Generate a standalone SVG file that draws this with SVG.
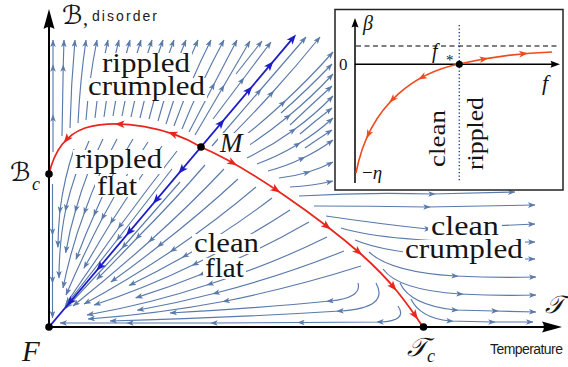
<svg xmlns="http://www.w3.org/2000/svg" xmlns:xlink="http://www.w3.org/1999/xlink" width="568" height="367" viewBox="0 0 568 367">
<defs>
<style>
.s{fill:none;stroke:#5a7aab;stroke-width:1.15}
.lab{font-family:"Liberation Serif",serif;font-weight:normal;fill:#151515}
.it{font-style:italic}
.bg{fill:#fff}
.hand{font-family:"Liberation Sans",sans-serif;fill:#1a1a1a}
.scr{font-family:"DejaVu Sans","DejaVu Serif",serif;font-style:italic;fill:#151515}
</style>
<marker id="sm" viewBox="0 0 8 6" refX="4" refY="3" markerWidth="7.5" markerHeight="5.6" markerUnits="userSpaceOnUse" orient="auto"><path d="M0,0 L8,3 L0,6 L2,3 z" fill="#5a7aab"/></marker>
<marker id="se" viewBox="0 0 8 6" refX="7.5" refY="3" markerWidth="7.5" markerHeight="5.6" markerUnits="userSpaceOnUse" orient="auto"><path d="M0,0 L8,3 L0,6 L2,3 z" fill="#5a7aab"/></marker>
<path id="ah" d="M5,0 L-5,-3.8 L-2.5,0 L-5,3.8 Z"/>
<path id="ahs" d="M4.5,0 L-4.5,-3.3 L-2.2,0 L-4.5,3.3 Z"/>
</defs>
<rect width="568" height="367" fill="#fff"/>

<g id="streamlines" class="s" marker-mid="url(#sm)" marker-end="url(#se)">
<!-- rippled crumpled: flow up -->
<path d="M53,152 L53,118 L53,68 L53,40"/>
<path d="M62,136 Q62.5,100 63.2,68 L64,40"/>
<path d="M70,128 Q71,84 75,40"/>
<path d="M78,123 Q80,81.5 86,40"/>
<path d="M86,120 Q89,80 97,40"/>
<path d="M95,118 Q99,79 108,40"/>
<path d="M104,117 Q109,78.5 119,40"/>
<path d="M113,116 Q119,78 130,40"/>
<path d="M122,116 Q129,78 141,40"/>
<path d="M131,117 Q139,78.5 152,40"/>
<path d="M140,118 Q149,79 163,40"/>
<path d="M149,119 Q159,79.5 174,40"/>
<path d="M158,121 Q169,80.5 186,40"/>
<path d="M166,124 Q179,82 198,40"/>
<path d="M174,126 Q189.5,83 211,40"/>
<path d="M182,129 Q200,84.5 224,40"/>
<path d="M189,132 L213,86 L237,40"/>
<path d="M195,135 L222.5,88 L250,41"/>
<path d="M236,74 L262,41"/>
<path d="M213,119 L242,80.5 L271,42"/>
<!-- clean crumpled, upper -->
<path d="M212,146 L259,91.5 L306,37"/>
<path d="M220,147 Q246.5,121 271.5,93.5 Q296.5,66 320,37"/>
<path d="M228,149 Q256.8,127.3 283,103 Q309.3,78.8 333,52"/>
<path d="M237,153 Q264,136.3 288,116.5 Q312,96.8 333,74"/>
<path d="M247,158 Q271.5,146 293,130.5 Q314.5,115 333,96"/>
<path d="M257,164 Q278.5,156 297.5,144.5 Q316.5,133 333,118"/>
<path d="M268,171 Q285.8,166.3 302,158.5 Q318.3,150.8 333,140"/>
<path d="M279,178 Q293.5,176.5 307,172.5 Q320.5,168.5 333,162"/>
<path d="M290,187 Q312,186 333,181"/>
<path d="M281,113 Q306,91 332,64"/>
<path d="M290,125 Q310,106 332,86"/>
<path d="M300,134 Q315,121 332,108"/>
<path d="M305,148 Q318,139 332,130"/>
<!-- clean crumpled, lower -->
<path d="M299,196 Q365,192 432,194 L515,192"/>
<path d="M314,206 Q370,206 427,207 L535,205"/>
<path d="M326,216 Q380,224 428,229 L535,224"/>
<path d="M341,228 C380,240 450,243 535,242"/>
<path d="M355,240 C388,254 460,259 535,259"/>
<path d="M369,252 Q390,272 455,276 Q495,278 536,277"/>
<path d="M383,269 Q398,290 460,294 Q500,296 536,295"/>
<path d="M400,283 Q410,305 455,310 L495,311 L536,312"/>
<path d="M411,299 Q420,318 450,321 L492,322 L533,322"/>
<!-- clean flat: flow to F -->
<path d="M180,182 Q152,214 124,246 Q95,277 66,308"/>
<path d="M205,165 Q173,202 138,237 Q117.6,258.6 96.8,279.4"/>
<path d="M224,169 Q189,206 151,240 Q113,274 73,306"/>
<path d="M238,179 Q200,214 160,245 Q136,264.2 110.9,282"/>
<path d="M256,187 Q216,221 173,250 Q130,279 84,304"/>
<path d="M272,198 Q230,230 185,256 Q157.4,271.6 129.1,285.5"/>
<path d="M290,210 Q244,240 195,264 Q146,288 94,305"/>
<path d="M309,222 Q257,252 202,274 Q169.6,287.2 135.7,297.9"/>
<path d="M327,237 Q270,265 210,284 Q150,304 87,315"/>
<path d="M344,251 Q282,276 216,293 Q177,303.2 137.3,310.2"/>
<path d="M361,266 Q295,287 226,301 Q158,314 88,319"/>
<path d="M358,283 Q362,298 330,301 Q260,308 170,313"/>
<path d="M376,283 Q390,308 340,311 Q230,318 110,321"/>
<path d="M398,306 Q408,321 380,322 L301,322.5 L214,323 L130,323 L60,323"/>
<!-- rippled flat: flow to F -->
<path d="M172,169 L118.6,238 L65,306.5"/>
<path d="M177,151 Q148,188 120,226 Q92,265 66,304"/>
<path d="M162,146 Q136,183 112,221 Q97.6,244.4 83.9,268.2"/>
<path d="M148,142 Q124,178 103,217 Q83,255 66,295"/>
<path d="M133,139 Q111,175 95,213 Q84.8,235.8 76,259.4"/>
<path d="M117,139 Q98,174 85,211 Q71,248 63,288"/>
<path d="M103,139 Q86,173 76,209 Q69.4,230.6 65.7,252.9"/>
<path d="M89,141 Q74,174 66,208 Q59,242 59,278"/>
<path d="M74,149 Q64,179 60,210 Q58.2,228.6 57.9,247.2"/>
<path d="M52.5,184 L52.5,232 L52.5,280 L52.5,318"/>
</g>

<g id="label-backgrounds" class="bg">
<rect x="100" y="53" width="92" height="25"/>
<rect x="86" y="78" width="121" height="23"/>
<rect x="73" y="150" width="91" height="24"/>
<rect x="95" y="176" width="44" height="21"/>
<rect x="192" y="234" width="68" height="20"/>
<rect x="203" y="258" width="43" height="21"/>
<rect x="428" y="217" width="74" height="20"/>
<rect x="403" y="240" width="122" height="24"/>
<rect x="218" y="133" width="32" height="21"/>
</g>

<g id="region-labels" class="lab" font-size="27.5">
<text x="102" y="72" textLength="88" lengthAdjust="spacingAndGlyphs">rippled</text>
<text x="88" y="95" textLength="117" lengthAdjust="spacingAndGlyphs">crumpled</text>
<text x="75" y="168" textLength="87" lengthAdjust="spacingAndGlyphs">rippled</text>
<text x="97" y="195" textLength="40" lengthAdjust="spacingAndGlyphs">flat</text>
<text x="194" y="252" textLength="65" lengthAdjust="spacingAndGlyphs">clean</text>
<text x="205" y="277" textLength="39" lengthAdjust="spacingAndGlyphs">flat</text>
<text x="431" y="235" textLength="68" lengthAdjust="spacingAndGlyphs">clean</text>
<text x="405" y="258" textLength="118" lengthAdjust="spacingAndGlyphs">crumpled</text>
</g>

<g id="separatrix-red" fill="#e8261e">
<path d="M201,147 C170,128 120,118 85,128 C68,134 55,148 49,174" fill="none" stroke="#e8261e" stroke-width="1.8"/>
<path d="M201,147 C250,168 322,220 362,255 C390,280 405,300 423,327" fill="none" stroke="#e8261e" stroke-width="1.8"/>
<use xlink:href="#ah" transform="translate(172.5,133.7) rotate(199)"/>
<use xlink:href="#ah" transform="translate(119.6,124.1) rotate(181)"/>
<use xlink:href="#ah" transform="translate(66.7,139.3) rotate(128)"/>
<use xlink:href="#ah" transform="translate(232.7,162.9) rotate(29)"/>
<use xlink:href="#ah" transform="translate(276.1,189.8) rotate(34)"/>
<use xlink:href="#ah" transform="translate(326.9,226.3) rotate(38)"/>
<use xlink:href="#ah" transform="translate(358.3,251.8) rotate(41)"/>
<use xlink:href="#ah" transform="translate(393.3,286.8) rotate(50)"/>
<use xlink:href="#ah" transform="translate(415.1,315.3) rotate(55)"/>
</g>

<g id="separatrix-blue" fill="#1c1cc8">
<path d="M49,327 L292.5,38.6" fill="none" stroke="#1c1cc8" stroke-width="1.8"/>
<use xlink:href="#ah" transform="translate(292.8,38.4) rotate(-49.8)"/>
<use xlink:href="#ah" transform="translate(270.2,65) rotate(-49.8)"/>
<use xlink:href="#ah" transform="translate(249.1,90) rotate(-49.8)"/>
<use xlink:href="#ah" transform="translate(221.3,123) rotate(-49.8)"/>
<use xlink:href="#ah" transform="translate(181.6,170) rotate(130.2)"/>
<use xlink:href="#ah" transform="translate(156.2,200) rotate(130.2)"/>
<use xlink:href="#ah" transform="translate(129.2,232) rotate(130.2)"/>
<use xlink:href="#ah" transform="translate(99.7,267) rotate(130.2)"/>
<use xlink:href="#ah" transform="translate(70.1,302) rotate(130.2)"/>
</g>

<g id="axes">
<path d="M49,327 L49,26 M49,327 L546,327" fill="none" stroke="#000" stroke-width="2"/>
<path d="M49,9 L54.5,29 Q49,25 43.5,29 Z" fill="#000"/>
<path d="M562,327 L542,321.5 Q546,327 542,332.5 Z" fill="#000"/>
<text x="62" y="24" class="scr" font-size="26">ℬ</text>
<text x="83" y="25" class="lab" font-size="20">,</text>
<text x="92" y="21" class="hand" font-size="14" textLength="65" lengthAdjust="spacing">disorder</text>
<text x="545" y="313" class="scr" font-size="25">𝒯</text>
<text x="490" y="354" class="hand" font-size="14" textLength="73" lengthAdjust="spacing">Temperature</text>
</g>

<g id="node-F">
<circle cx="49" cy="327" r="3.8" fill="#000"/>
<text x="22" y="361" class="lab it" font-size="29">F</text>
</g>
<g id="node-M">
<circle cx="201" cy="147" r="3.8" fill="#000"/>
<text x="220" y="152" class="lab it" font-size="27">M</text>
</g>
<g id="node-Bc">
<circle cx="49" cy="174" r="3.8" fill="#000"/>
<text x="10" y="181" class="scr" font-size="26">ℬ</text>
<text x="32" y="190" class="lab it" font-size="18">c</text>
</g>
<g id="node-Tc">
<circle cx="423.5" cy="327" r="3.8" fill="#000"/>
<text x="407" y="356" class="scr" font-size="26">𝒯</text>
<text x="427" y="362" class="lab it" font-size="18">c</text>
</g>

<g id="inset">
<rect x="335" y="9.5" width="228" height="180.5" fill="#fff" stroke="#222" stroke-width="1.5"/>
<path d="M356,46 L558,46" stroke="#000" stroke-width="1.2" stroke-dasharray="5 3.5" fill="none"/>
<path d="M459.3,25 L459.3,181" stroke="#2233cc" stroke-width="1.4" stroke-dasharray="1.3 2.2" fill="none"/>
<path d="M355,183 L355,26 M355,64.3 L552,64.3" stroke="#000" stroke-width="1.5" fill="none"/>
<path d="M355,18 L358.5,27.5 Q355,25.5 351.5,27.5 Z" fill="#000"/>
<path d="M560,64.3 L550.5,60.8 Q552.5,64.3 550.5,67.8 Z" fill="#000"/>
<g fill="#f04a1e">
<path d="M459,64 C420,72 370,100 356,173 M459,64 C490,57 520,53 552,52" fill="none" stroke="#f04a1e" stroke-width="1.6"/>
<use xlink:href="#ahs" transform="translate(422.1,77.4) rotate(151.7)"/>
<use xlink:href="#ahs" transform="translate(392.4,99.5) rotate(134.5)"/>
<use xlink:href="#ahs" transform="translate(368.4,134.4) rotate(115.4)"/>
<use xlink:href="#ahs" transform="translate(484,59) rotate(-9.3)"/>
<use xlink:href="#ahs" transform="translate(523.6,53.7) rotate(-5.1)"/>
</g>
<circle cx="459.3" cy="64.3" r="3.5" fill="#000"/>
<text x="363" y="30" class="lab it" font-size="20">β</text>
<text x="339" y="70" class="lab" font-size="17">0</text>
<text x="542" y="90" class="lab it" font-size="22">f</text>
<text x="432" y="58" class="lab it" font-size="20">f</text>
<text x="446" y="65" class="lab" font-size="15">*</text>
<text x="362" y="179" class="lab" font-size="19">−<tspan class="it">η</tspan></text>
<text transform="translate(445,167) rotate(-90)" class="lab" font-size="24" textLength="57" lengthAdjust="spacingAndGlyphs">clean</text>
<text transform="translate(482.5,170) rotate(-90)" class="lab" font-size="24" textLength="73" lengthAdjust="spacingAndGlyphs">rippled</text>
</g>
</svg>
